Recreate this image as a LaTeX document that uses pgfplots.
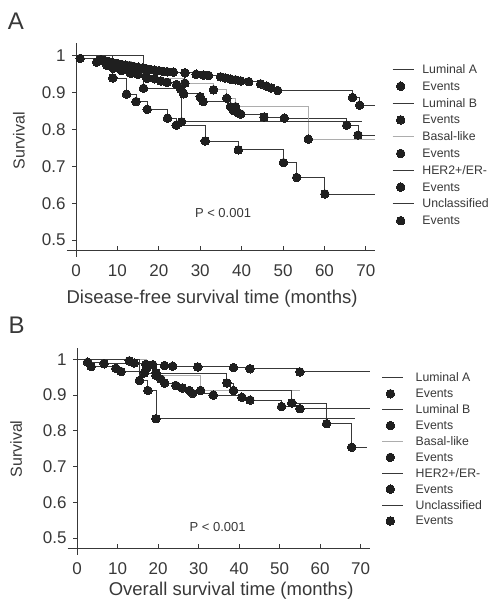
\documentclass[border=0pt]{standalone}
\usepackage{fontspec}
\setmainfont{Liberation Sans}
\usepackage{pgfplots}
\pgfplotsset{compat=1.18}
\definecolor{ink}{gray}{0.22}
\definecolor{lite}{gray}{0.68}
\newcommand\legw{29.7pt}
\pgfplotsset{
  kmline/.style={const plot, mark=none, line width=0.9pt, draw=ink,
    legend image code/.code={\path[draw=none,fill=none] (0pt,0pt) -- (\legw,0pt); \draw[##1] (0pt,0pt) -- (21pt,0pt);}},
  kmlite/.style={kmline, draw=lite},
  kmev/.style={only marks, mark=*, mark size=4.3pt,
    mark options={fill=black!88, draw=black!88, line width=0pt},
    legend image code/.code={\path[draw=none,fill=none] (0pt,0pt) -- (\legw,0pt); \draw[##1] plot coordinates {(8pt,0pt)};}},
  kmaxis/.style={scale only axis, axis lines=left,
    axis line style={-, draw=ink, line width=0.8pt}, clip=false,
    xmin=0, ymin=0.473, ymax=1.035,
    xtick={0,10,...,70}, ytick={0.5,0.6,0.7,0.8,0.9,1},
    xtick align=inside, ytick align=outside, major tick length=4pt,
    tick style={draw=ink, line width=0.8pt},
    ticklabel style={font=\fontsize{17}{19}\selectfont, text=ink},
    xticklabel style={yshift=-11pt},
    yticklabel style={xshift=-3pt},
    /pgf/number format/assume math mode=true,
    every axis y label/.style={rotate=90, anchor=center, font=\fontsize{16}{18}\selectfont, text=ink},
    every axis x label/.style={anchor=center, font=\fontsize{18.5}{20}\selectfont, text=ink},
    legend cell align=left,
    legend style={anchor=north west, draw=none, fill=none, inner sep=0pt,
      font=\fontsize{12.3}{14}\selectfont, text=ink, row sep=4.8pt, column sep=0pt,
      nodes={inner sep=0pt, text height=10pt, text depth=2pt}},
  }
}
\begin{document}
\begin{tikzpicture}
\path[use as bounding box] (0,0) rectangle (491pt,601pt);
\node[font=\fontsize{24}{26}\selectfont, text=ink] at (16pt,580pt) {A};
\node[font=\fontsize{24}{26}\selectfont, text=ink] at (16.7pt,276pt) {B};
% ---------------- Panel A ----------------
\begin{axis}[kmaxis, at={(76pt,351pt)}, anchor=south west,
  width=299pt, height=207pt, xmax=72.2,
  xlabel={Disease-free survival time (months)}, ylabel={Survival},
  x label style={at={(axis description cs:0.455,-0.236)}},
  y label style={at={(axis description cs:-0.191,0.528)}},
  legend style={at={(axis description cs:1.057,0.902)}}]
\addplot[kmline] coordinates {(0,1)(1,0.993)(6,0.99)(7,0.987)(8,0.984)(9,0.981)(10,0.979)(11,0.977)(12,0.975)(13,0.973)(14,0.971)(15,0.969)(16,0.967)(17,0.965)(18,0.963)(19,0.961)(20,0.96)(21,0.958)(22,0.957)(23.5,0.956)(26.3,0.954)(29,0.95)(30.8,0.948)(32,0.947)(34.9,0.943)(36,0.94)(37.3,0.937)(38.5,0.935)(39.8,0.932)(41.7,0.93)(44.6,0.924)(46,0.918)(47.1,0.913)(48.7,0.906)(66.8,0.887)(68.5,0.866)(72.2,0.866)};
\addplot[kmev] coordinates {(1,0.993)(6,0.99)(7,0.987)(8,0.984)(9,0.981)(10,0.979)(11,0.977)(12,0.975)(13,0.973)(14,0.971)(15,0.969)(16,0.967)(17,0.965)(18,0.963)(19,0.961)(20,0.96)(21,0.958)(22,0.957)(23.5,0.956)(26.3,0.954)(29,0.95)(30.8,0.948)(32,0.947)(34.9,0.943)(36,0.94)(37.3,0.937)(38.5,0.935)(39.8,0.932)(41.7,0.93)(44.6,0.924)(46,0.918)(47.1,0.913)(48.7,0.906)(66.8,0.887)(68.5,0.866)};
\addplot[kmline] coordinates {(0,1)(5,0.983)(7.5,0.974)(9,0.966)(11,0.96)(13,0.955)(15,0.95)(17,0.944)(19,0.938)(20.5,0.932)(22,0.928)(24.3,0.922)(25.3,0.91)(26,0.897)(30,0.889)(30.7,0.876)(37.3,0.862)(38,0.852)(39,0.846)(39.8,0.842)(45.4,0.834)(50.3,0.831)(65.4,0.812)(68.1,0.785)(72.2,0.785)};
\addplot[kmev] coordinates {(5,0.983)(7.5,0.974)(9,0.966)(11,0.96)(13,0.955)(15,0.95)(17,0.944)(19,0.938)(20.5,0.932)(22,0.928)(24.3,0.922)(25.3,0.91)(26,0.897)(30,0.889)(30.7,0.876)(37.3,0.862)(38,0.852)(39,0.846)(39.8,0.842)(45.4,0.834)(50.3,0.831)(65.4,0.812)(68.1,0.785)};
\addplot[kmlite] coordinates {(0,1)(7,0.985)(13.3,0.953)(17.1,0.939)(26.3,0.926)(33.2,0.908)(36.4,0.885)(38.5,0.862)(56.1,0.774)(72.2,0.774)};
\addplot[kmev] coordinates {(7,0.985)(13.3,0.953)(17.1,0.939)(26.3,0.926)(33.2,0.908)(36.4,0.885)(38.5,0.862)(56.1,0.774)};
\addplot[kmline] coordinates {(0,1)(16.3,0.912)(25.5,0.821)(69,0.821)};
\addplot[kmev] coordinates {(16.3,0.912)(25.5,0.821)};
\addplot[kmline] coordinates {(0,1)(8.9,0.94)(12.2,0.896)(14.5,0.876)(17.2,0.855)(22.1,0.831)(24.2,0.812)(31.2,0.769)(39.2,0.745)(50.1,0.71)(53.3,0.67)(60.1,0.625)(72.2,0.625)};
\addplot[kmev] coordinates {(8.9,0.94)(12.2,0.896)(14.5,0.876)(17.2,0.855)(22.1,0.831)(24.2,0.812)(31.2,0.769)(39.2,0.745)(50.1,0.71)(53.3,0.67)(60.1,0.625)};
\legend{Luminal A, Events, Luminal B, Events, Basal-like, Events, HER2+/ER-, Events, Unclassified, Events}
\draw[ink, line width=0.8pt] (axis cs:-2.2,0.473) -- (axis cs:0,0.473) -- (axis cs:0,0.455);
\node[font=\fontsize{13}{15}\selectfont, text=ink] at (axis cs:35.5,0.573) {P < 0.001};
\end{axis}
\renewcommand\legw{33.3pt}
% ---------------- Panel B ----------------
\begin{axis}[kmaxis, at={(77pt,52.7pt)}, anchor=south west,
  width=293pt, height=200.3pt, xmax=72.3, ymin=0.471, ymax=1.032,
  xlabel={Overall survival time (months)}, ylabel={Survival},
  x label style={at={(axis description cs:0.526,-0.212)}},
  y label style={at={(axis description cs:-0.208,0.496)}},
  legend style={at={(axis description cs:1.04,0.882)}, row sep=3.9pt}]
\addplot[kmline] coordinates {(0,1)(2.6,0.992)(6.7,0.988)(17,0.986)(18.7,0.985)(21.6,0.983)(23.6,0.981)(29.8,0.979)(38.6,0.977)(42.7,0.974)(55,0.965)(72.3,0.965)};
\addplot[kmev] coordinates {(2.6,0.992)(6.7,0.988)(17,0.986)(18.7,0.985)(21.6,0.983)(23.6,0.981)(29.8,0.979)(38.6,0.977)(42.7,0.974)(55,0.965)};
\addplot[kmline] coordinates {(0,1)(3.5,0.98)(9.6,0.975)(10.9,0.966)(16.6,0.962)(20.7,0.945)(21.6,0.934)(24.4,0.927)(26,0.92)(27.7,0.913)(28.5,0.905)(33.6,0.9)(40.7,0.894)(42.7,0.886)(50.5,0.868)(55,0.862)(72.3,0.862)};
\addplot[kmev] coordinates {(3.5,0.98)(9.6,0.975)(10.9,0.966)(16.6,0.962)(20.7,0.945)(21.6,0.934)(24.4,0.927)(26,0.92)(27.7,0.913)(28.5,0.905)(33.6,0.9)(40.7,0.894)(42.7,0.886)(50.5,0.868)(55,0.862)};
\addplot[kmlite] coordinates {(0,1)(17.2,0.975)(19.5,0.955)(30.5,0.913)(55,0.913)};
\addplot[kmev] coordinates {(17.2,0.975)(19.5,0.955)(30.5,0.913)};
\addplot[kmline] coordinates {(0,1)(15.4,0.941)(17.5,0.913)(19.5,0.834)(68.6,0.834)};
\addplot[kmev] coordinates {(15.4,0.941)(17.5,0.913)(19.5,0.834)};
\addplot[kmline] coordinates {(0,1)(12.9,0.996)(14.1,0.99)(19.5,0.962)(37,0.934)(38.6,0.913)(53,0.878)(61.6,0.82)(67.8,0.754)(71.5,0.754)};
\addplot[kmev] coordinates {(12.9,0.996)(14.1,0.99)(19.5,0.962)(37,0.934)(38.6,0.913)(53,0.878)(61.6,0.82)(67.8,0.754)};
\legend{Luminal A, Events, Luminal B, Events, Basal-like, Events, HER2+/ER-, Events, Unclassified, Events}
\draw[ink, line width=0.8pt] (axis cs:-2.3,0.471) -- (axis cs:0,0.471) -- (axis cs:0,0.453);
\node[font=\fontsize{13}{15}\selectfont, text=ink] at (axis cs:34.7,0.531) {P < 0.001};
\end{axis}
\end{tikzpicture}
\end{document}
